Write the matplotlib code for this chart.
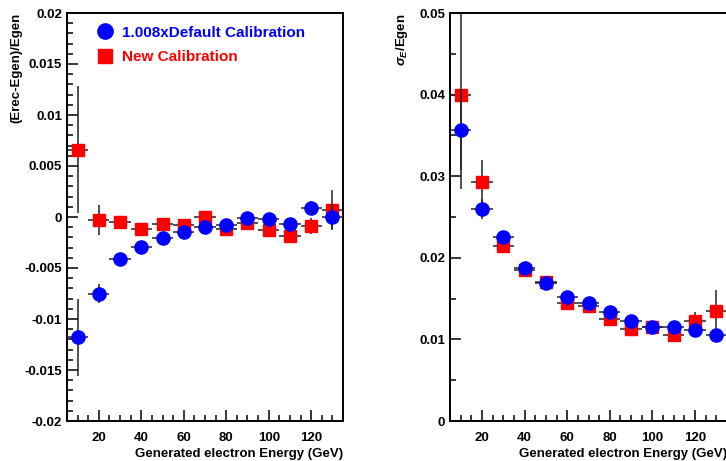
import matplotlib
matplotlib.use("Agg")
import matplotlib.pyplot as plt
from matplotlib.ticker import MultipleLocator
from matplotlib.lines import Line2D

plt.rcParams['font.family'] = ['Liberation Sans', 'DejaVu Sans']
plt.rcParams['font.weight'] = 'bold'
plt.rcParams['mathtext.fontset'] = 'custom'
plt.rcParams['mathtext.rm'] = 'Liberation Sans'
plt.rcParams['mathtext.it'] = 'Liberation Sans:italic'

# energies (GeV)
energia = [10, 20, 30, 40, 50, 60, 70, 80, 90, 100, 110, 120, 130]
bin_half = [5] * 13

# (Erec-Egen)/Egen
sesgo_default = [-0.0118, -0.0075, -0.0041, -0.0029, -0.0021, -0.0015, -0.0010,
                 -0.0008, -0.0001, -0.0002, -0.0007, 0.0009, 0.0000]
err_sesgo_default = [0.0038, 0.0009, 0.0004, 0.0004, 0.0004, 0.0004, 0.0004,
                     0.0004, 0.0004, 0.0004, 0.0004, 0.0007, 0.0013]
sesgo_nueva = [0.0066, -0.0003, -0.0005, -0.0012, -0.0007, -0.0008, 0.0000,
               -0.0012, -0.0006, -0.0013, -0.0019, -0.0009, 0.0007]
err_sesgo_nueva = [0.0062, 0.0015, 0.0004, 0.0004, 0.0004, 0.0004, 0.0004,
                   0.0004, 0.0004, 0.0004, 0.0004, 0.0008, 0.0019]

# sigma_E/Egen
res_default = [0.0357, 0.0260, 0.0225, 0.0187, 0.0169, 0.0152, 0.0145,
               0.0133, 0.0122, 0.0115, 0.0115, 0.0112, 0.0106]
err_res_default = [0.0050, 0.0012, 0.0004, 0.0003, 0.0003, 0.0003, 0.0003,
                   0.0003, 0.0003, 0.0003, 0.0003, 0.0004, 0.0004]
res_nueva = [0.0399, 0.0293, 0.0215, 0.0185, 0.0170, 0.0145, 0.0141,
             0.0125, 0.0113, 0.0115, 0.0105, 0.0123, 0.0135]
err_res_nueva = [0.0115, 0.0027, 0.0004, 0.0003, 0.0003, 0.0003, 0.0003,
                 0.0003, 0.0003, 0.0003, 0.0003, 0.0010, 0.0026]

etiquetas = ["1.008xDefault Calibration", "New Calibration"]
ticks_sesgo = [-0.02, -0.015, -0.01, -0.005, 0, 0.005, 0.01, 0.015, 0.02]
txt_sesgo = ['-0.02', '-0.015', '-0.01', '-0.005', '0', '0.005', '0.01', '0.015', '0.02']
ticks_res = [0, 0.01, 0.02, 0.03, 0.04, 0.05]
txt_res = ['0', '0.01', '0.02', '0.03', '0.04', '0.05']

azul = "#0000ff"
rojo = "#ff0000"
col_err = "#222222"

fig = plt.figure(figsize=(7.26, 4.61), dpi=100)
ax1 = fig.add_axes([67/726, 40/461, 276/726, 408/461])
ax2 = fig.add_axes([450/726, 40/461, 277/726, 408/461])


def dibujar(ax, y_def, e_def, y_new, e_new):
    ax.errorbar(energia, y_new, yerr=e_new, xerr=bin_half, fmt='s', color=rojo,
                ms=9, ecolor=col_err, elinewidth=1.1, capsize=0, zorder=2)
    ax.errorbar(energia, y_def, yerr=e_def, xerr=bin_half, fmt='o', color=azul,
                ms=9.5, ecolor=col_err, elinewidth=1.1, capsize=0, zorder=3)
    ax.set_xlim(5, 135)
    ax.xaxis.set_major_locator(MultipleLocator(20))
    ax.xaxis.set_minor_locator(MultipleLocator(5))
    ax.tick_params(which='both', direction='in', top=False, right=False,
                   labelsize=9.5, width=1.1)
    ax.tick_params(which='major', length=8)
    ax.tick_params(which='minor', length=4)
    ax.tick_params(axis='x', which='major', pad=8)
    for s in ax.spines.values():
        s.set_linewidth(1.4)
    ax.set_xlabel("Generated electron Energy (GeV)", fontsize=9.5, fontweight='bold',
                  loc='right', labelpad=3)


dibujar(ax1, sesgo_default, err_sesgo_default, sesgo_nueva, err_sesgo_nueva)
ax1.set_ylim(-0.02, 0.02)
ax1.set_yticks(ticks_sesgo)
ax1.set_yticklabels(txt_sesgo)
ax1.yaxis.set_minor_locator(MultipleLocator(0.001))
ax1.set_ylabel("(Erec-Egen)/Egen", fontsize=9.5, fontweight='bold', loc='top')
ax1.yaxis.set_label_coords(-0.163, 1.0)

dibujar(ax2, res_default, err_res_default, res_nueva, err_res_nueva)
ax2.set_ylim(0, 0.05)
ax2.set_yticks(ticks_res)
ax2.set_yticklabels(txt_res)
ax2.yaxis.set_minor_locator(MultipleLocator(0.005))
ax2.set_ylabel(r"$\sigma_E$/Egen", fontsize=9.5, fontweight='bold', loc='top')
ax2.yaxis.set_label_coords(-0.144, 1.0)

manejadores = [Line2D([], [], marker='o', color=azul, ls='none', ms=11),
               Line2D([], [], marker='s', color=rojo, ls='none', ms=10)]
ley = ax1.legend(manejadores, etiquetas, loc='upper left', bbox_to_anchor=(0.065, 0.995),
                 frameon=False, prop={'weight': 'bold', 'size': 11},
                 handlelength=1.2, handletextpad=0.5, labelspacing=0.7, borderpad=0.2)
for txt, c in zip(ley.get_texts(), [azul, rojo]):
    txt.set_color(c)

fig.savefig("out.png", dpi=100)
